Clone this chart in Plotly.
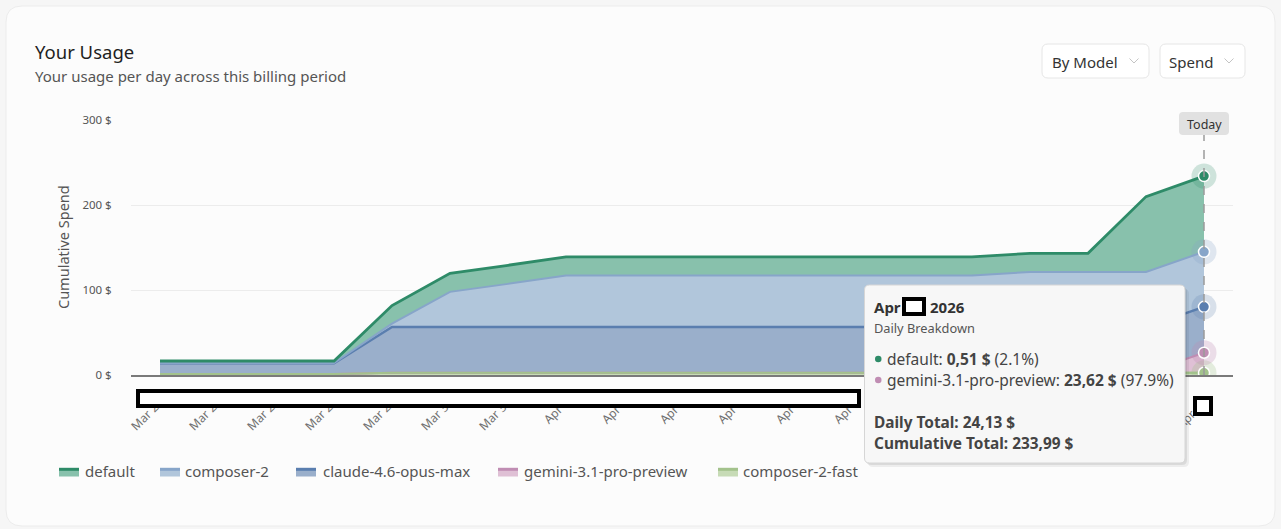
import numpy as np
import plotly.graph_objects as go

# ---------------- data ----------------
dates = ["Mar 25", "Mar 26", "Mar 27", "Mar 28", "Mar 29", "Mar 30", "Mar 31",
         "Apr 1", "Apr 2", "Apr 3", "Apr 4", "Apr 5", "Apr 6", "Apr 7",
         "Apr 8", "Apr 9", "Apr 10", "Apr 11", "Apr 12"]

# cumulative spend per model ($)
composer_2_fast = [1.2, 1.2, 1.2, 1.2, 2.6, 2.6, 2.6, 2.6, 2.6, 2.6,
                   2.6, 2.6, 2.6, 2.6, 2.6, 2.6, 2.6, 2.6, 2.6]
gemini_3_1_pro_preview = [0, 0, 0, 0, 0, 0, 0, 0, 0, 0,
                          0, 0, 0, 0, 0, 0, 0, 0, 23.62]
claude_4_6_opus_max = [12.5, 12.5, 12.5, 12.5, 54.0, 54.0, 54.0, 54.0, 54.0, 54.0,
                       54.0, 54.0, 54.0, 54.0, 54.0, 54.0, 54.0, 54.0, 54.0]
composer_2 = [0.3, 0.3, 0.3, 0.3, 3.9, 41.2, 50.6, 60.4, 60.4, 60.4,
              60.4, 60.4, 60.4, 60.4, 60.4, 64.7, 64.7, 64.7, 64.7]
default = [2.5, 2.5, 2.5, 2.5, 21.2, 21.9, 21.9, 21.9, 21.9, 21.9,
           21.9, 21.9, 21.9, 21.9, 21.9, 21.9, 21.9, 88.56, 89.07]

series_names = ["composer-2-fast", "gemini-3.1-pro-preview", "claude-4.6-opus-max", "composer-2", "default"]
series_values = [composer_2_fast, gemini_3_1_pro_preview, claude_4_6_opus_max, composer_2, default]
legend_order = ["default", "composer-2", "claude-4.6-opus-max", "gemini-3.1-pro-preview", "composer-2-fast"]
y_ticks = [0, 100, 200, 300]
y_tick_labels = ["0 $", "100 $", "200 $", "300 $"]

# ---------------- styles ----------------
line_colors = {"composer-2-fast": "#a3c28c", "gemini-3.1-pro-preview": "#c08db3",
               "claude-4.6-opus-max": "#5a7eaf", "composer-2": "#87a5c9", "default": "#2e8b68"}
fill_colors = {"composer-2-fast": "#c7dbb6", "gemini-3.1-pro-preview": "#dfc0d5",
               "claude-4.6-opus-max": "#9aafcb", "composer-2": "#b1c6db", "default": "#88c1ac"}
halo_colors = {"composer-2-fast": "rgba(163,194,140,0.28)", "gemini-3.1-pro-preview": "rgba(192,141,179,0.28)",
               "claude-4.6-opus-max": "rgba(90,126,175,0.22)", "composer-2": "rgba(135,165,201,0.25)",
               "default": "rgba(46,139,104,0.22)"}
line_widths = {"composer-2-fast": 2, "gemini-3.1-pro-preview": 2, "claude-4.6-opus-max": 2.5,
               "composer-2": 2, "default": 2.8}

FONT = "Noto Sans, Open Sans, sans-serif"
W, H = 1281, 529
L, R, T, B = 131, 1233, 120, 375


def px(x):
    return (x - L) / (R - L)


def py(y):
    return (B - y) / (B - T)


def rrect(x0, y0, x1, y1, r):
    rx, ry = r / (R - L), r / (B - T)
    X0, X1, Y0, Y1 = px(x0), px(x1), py(y0), py(y1)
    return (f"M{X0+rx},{Y0} L{X1-rx},{Y0} Q{X1},{Y0} {X1},{Y0-ry} L{X1},{Y1+ry} "
            f"Q{X1},{Y1} {X1-rx},{Y1} L{X0+rx},{Y1} Q{X0},{Y1} {X0},{Y1+ry} "
            f"L{X0},{Y0-ry} Q{X0},{Y0} {X0+rx},{Y0} Z")


shapes = []
annotations = []


def add_path(path, fill, line="rgba(0,0,0,0)", lw=0, layer="above"):
    shapes.append(dict(type="path", xref="paper", yref="paper", path=path,
                       fillcolor=fill, line=dict(color=line, width=lw), layer=layer))


def add_rect(x0, y0, x1, y1, fill, line="rgba(0,0,0,0)", lw=0, layer="above"):
    shapes.append(dict(type="rect", xref="paper", yref="paper", x0=px(x0), x1=px(x1),
                       y0=py(y1), y1=py(y0), fillcolor=fill, line=dict(color=line, width=lw), layer=layer))


def add_text(x, y, s, size, color, anchor="left", angle=0):
    annotations.append(dict(xref="paper", yref="paper", x=px(x), y=py(y), text=s, showarrow=False,
                            xanchor=anchor, yanchor="middle", textangle=angle, borderpad=0, borderwidth=0,
                            font=dict(family=FONT, size=size, color=color)))


fig = go.Figure()

# stacked cumulative areas (bottom to top)
for name, vals in zip(series_names, series_values):
    fig.add_trace(go.Scatter(
        x=dates, y=vals, name=name, mode="lines", stackgroup="usage",
        line=dict(color=line_colors[name], width=line_widths[name]),
        fillcolor=fill_colors[name], hoverinfo="skip", showlegend=False))

# keep the bottom (composer-2-fast) outline visible over the empty gemini layer
fig.add_trace(go.Scatter(x=dates, y=composer_2_fast, mode="lines", hoverinfo="skip", showlegend=False,
                         line=dict(color=line_colors["composer-2-fast"], width=2)))

# hovered "today" points at the stacked tops
last_vals = [v[-1] for v in series_values]
tops = np.cumsum(last_vals)
fig.add_trace(go.Scatter(
    x=[dates[-1]] * len(tops), y=tops, mode="markers", hoverinfo="skip", showlegend=False,
    marker=dict(size=25, color=[halo_colors[n] for n in series_names], line=dict(width=0))))
fig.add_trace(go.Scatter(
    x=[dates[-1]] * len(tops), y=tops, mode="markers", hoverinfo="skip", showlegend=False,
    marker=dict(size=11, color=[line_colors[n] for n in series_names], line=dict(width=1.5, color="white"))))

# ---------------- card & header ----------------
add_path(rrect(6, 6, 1275, 526, 16), "#fcfcfc", "#ececec", 1, layer="below")
add_text(35, 51, "Your Usage", 18.5, "#1f1f1f")
add_text(35, 76.5, "Your usage per day across this billing period", 15, "#555555")

for (bx0, bx1, label, tx, cx) in [(1042, 1149, "By Model", 1052, 1134), (1160, 1245, "Spend", 1169, 1229)]:
    add_path(rrect(bx0, 44, bx1, 78, 6), "#ffffff", "#e6e6e6", 1)
    add_text(tx, 62, label, 15, "#333333")
    add_path(f"M{px(cx-4.5)},{py(58.5)} L{px(cx)},{py(63)} L{px(cx+4.5)},{py(58.5)}",
             "rgba(0,0,0,0)", "#c4c4c4", 1)

add_text(63, 247, "Cumulative Spend", 14.5, "#555555", anchor="center", angle=-90)

# ---------------- today marker ----------------
shapes.append(dict(type="line", xref="x", yref="paper", x0=dates[-1], x1=dates[-1], y0=0, y1=py(134),
                   line=dict(color="#9a9a9a", width=1.5, dash="dash"), layer="above"))
add_path(rrect(1179, 112, 1229, 135, 4), "#e1e1e1")
add_text(1204, 124, "Today", 12.5, "#333333", anchor="center")

# ---------------- redaction boxes over labels ----------------
add_rect(138, 391, 859, 406, "#ffffff", "#000000", 4)
add_rect(1195, 398, 1211, 414, "#ffffff", "#000000", 4)

# ---------------- tooltip ----------------
daily = [v[-1] - v[-2] for v in series_values]
daily_total = sum(daily)
cum_total = sum(last_vals)


def money(v):
    return f"{v:.2f}".replace(".", ",") + " $"


add_path(rrect(868, 289, 1189, 467, 5), "rgba(0,0,0,0.06)")
add_path(rrect(866, 287, 1187, 465, 5), "rgba(0,0,0,0.08)")
add_path(rrect(864.5, 285, 1185, 463, 5), "#f7f7f7", "#d6d6d6", 1)
add_text(874, 307, "<b>Apr</b>", 15, "#333333")
add_rect(904, 299, 924, 314, "#ffffff", "#000000", 4)
add_text(930, 307, "<b>2026</b>", 15, "#333333")
add_text(874, 328, "Daily Breakdown", 12.8, "#555555")
row_y = 359
for name, d in zip(series_names[::-1], daily[::-1]):
    if d <= 0.001:
        continue
    shapes.append(dict(type="circle", xref="paper", yref="paper",
                       x0=px(875), x1=px(881.5), y0=py(row_y + 3.3), y1=py(row_y - 3.3),
                       fillcolor=line_colors[name], line=dict(width=0), layer="above"))
    add_text(887, row_y, f"{name}: <b>{money(d)}</b> ({d / daily_total * 100:.1f}%)", 15.5, "#444444")
    row_y += 21
add_text(874, 422, f"<b>Daily Total: {money(daily_total)}</b>", 15.4, "#444444")
add_text(874, 443, f"<b>Cumulative Total: {money(cum_total)}</b>", 15.4, "#444444")

# ---------------- legend (manual) ----------------
legend_pos = {"default": (59, 85), "composer-2": (160, 185), "claude-4.6-opus-max": (296, 323),
              "gemini-3.1-pro-preview": (498, 524), "composer-2-fast": (718, 743)}
for name in legend_order:
    sx, tx = legend_pos[name]
    add_rect(sx, 468, sx + 20, 476.5, fill_colors[name])
    shapes.append(dict(type="line", xref="paper", yref="paper", x0=px(sx), x1=px(sx + 20),
                       y0=py(469.3), y1=py(469.3), line=dict(color=line_colors[name], width=3), layer="above"))
    add_text(tx, 471, name, 15, "#555555")

fig.update_layout(
    width=W, height=H,
    margin=dict(l=L, r=W - R, t=T, b=H - B, pad=0),
    paper_bgcolor="#f6f6f6", plot_bgcolor="#fcfcfc",
    font=dict(family=FONT, color="#555555"),
    showlegend=False, hovermode=False,
    shapes=shapes, annotations=annotations,
    xaxis=dict(type="category", range=[-0.5, len(dates) - 0.5], showgrid=False, zeroline=False,
               showline=True, linecolor="#7a7a7a", linewidth=1.5,
               tickangle=-45, ticks="outside", ticklen=14, tickcolor="rgba(0,0,0,0)",
               tickfont=dict(family=FONT, size=12, color="#707070")),
    yaxis=dict(range=[0, 300], tickvals=y_ticks, ticktext=y_tick_labels, showgrid=True, gridcolor="#ececec",
               gridwidth=1, zeroline=False, showline=False, ticks="outside", ticklen=16,
               tickcolor="rgba(0,0,0,0)", tickfont=dict(family=FONT, size=11.5, color="#555555")),
)

fig.write_html("out.html", config={"displayModeBar": False},
               post_script="document.body.style.margin='0';document.body.style.overflow='hidden';")
